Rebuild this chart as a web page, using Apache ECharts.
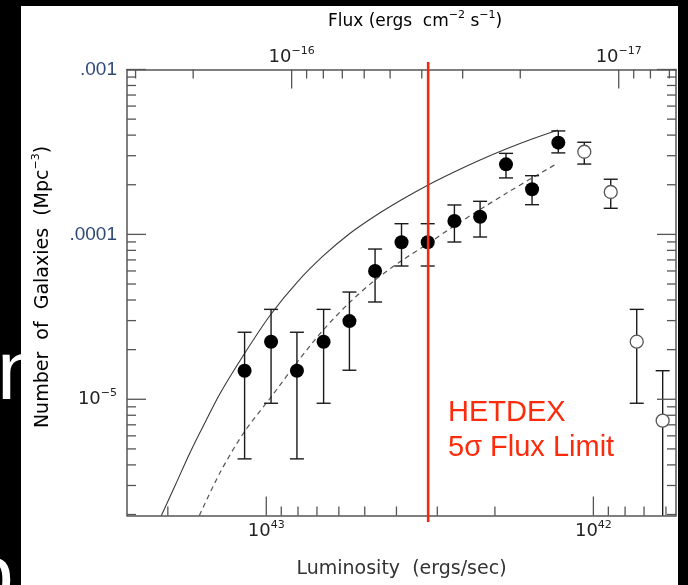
<!DOCTYPE html>
<html>
<head>
<meta charset="utf-8">
<script src="https://cdn.jsdelivr.net/npm/echarts@6/dist/echarts.min.js"></script>
<style>html,body{margin:0;padding:0;background:#fff;}#c{width:688px;height:585px;}</style>
</head>
<body>
<div id="c"></div>
<script>
// ---------------- data ----------------
// filled points: luminosity (erg/s), number density (Mpc^-3), error-bar ends
const filledLum  = [1.165e43, 9.67e42, 8.06e42, 6.68e42, 5.57e42, 4.65e42, 3.86e42, 3.21e42, 2.66e42, 2.22e42, 1.85e42, 1.54e42, 1.28e42];
const filledN    = [1.49e-5, 2.235e-5, 1.49e-5, 2.235e-5, 2.98e-5, 6.0e-5, 8.96e-5, 8.96e-5, 1.206e-4, 1.28e-4, 2.66e-4, 1.877e-4, 3.6e-4];
const filledHi   = [2.55e-5, 3.51e-5, 2.55e-5, 3.51e-5, 4.47e-5, 8.15e-5, 1.161e-4, 1.161e-4, 1.508e-4, 1.587e-4, 3.10e-4, 2.27e-4, 4.24e-4];
const filledLo   = [4.35e-6, 9.46e-6, 4.35e-6, 9.46e-6, 1.5e-5, 3.89e-5, 6.43e-5, 6.43e-5, 8.99e-5, 9.64e-5, 2.2e-4, 1.514e-4, 3.12e-4];
// open points
const openLum = [1.066e42, 8.85e41, 7.37e41, 6.14e41];
const openN   = [3.17e-4, 1.807e-4, 2.235e-5, 7.42e-6];
const openHi  = [3.62e-4, 2.16e-4, 3.51e-5, 1.49e-5];
const openLo  = [2.67e-4, 1.44e-4, 9.46e-6, 1.0e-6];
// solid model curve
const solidLum = [2.093e43, 1.897e43, 1.707e43, 1.536e43, 1.382e43, 1.168e43, 9.72e42, 8.04e42, 6.70e42, 5.58e42, 4.65e42, 3.87e42, 3.20e42, 2.665e42, 2.22e42, 1.85e42, 1.54e42, 1.282e42];
const solidN   = [1.974e-6, 3.02e-6, 4.79e-6, 7.29e-6, 1.092e-5, 1.883e-5, 3.245e-5, 5.14e-5, 7.40e-5, 1.006e-4, 1.293e-4, 1.616e-4, 1.994e-4, 2.39e-4, 2.826e-4, 3.295e-4, 3.79e-4, 4.30e-4];
// dashed model curve
const dashLum = [1.602e43, 1.382e43, 1.168e43, 9.72e42, 8.04e42, 6.70e42, 5.58e42, 4.65e42, 3.87e42, 3.20e42, 2.665e42, 2.22e42, 1.85e42, 1.54e42, 1.282e42];
const dashN   = [1.974e-6, 3.62e-6, 6.33e-6, 1.018e-5, 1.683e-5, 2.63e-5, 3.84e-5, 5.29e-5, 6.90e-5, 8.81e-5, 1.125e-4, 1.416e-4, 1.77e-4, 2.198e-4, 2.71e-4];
// HETDEX 5 sigma flux limit, in luminosity
const fluxLimitLum = [3.2e42];

// axis ranges and ticks
const lumRange  = [5.59e41, 2.666e43];
const nRange    = [1.973e-6, 1e-3];
const fluxPerLumLog = -58.9225;             // log10(flux / luminosity)
const lumTickValues  = [1e43, 1e42];
const lumTickExps    = ['43', '42'];
const fluxTickValues = [1e-16, 1e-17];
const fluxTickExps   = ['\u221216', '\u221217'];
const nTickValues    = [1e-3, 1e-4, 1e-5];
const nTickBase      = ['.001', '.0001', '10'];
const nTickSup       = ['', '', '\u22125'];
const lumMinorTicks  = [2e43, 9e42, 8e42, 7e42, 6e42, 5e42, 4e42, 3e42, 2e42, 9e41, 8e41, 7e41, 6e41];
const fluxMinorTicks = [3e-16, 2e-16, 9e-17, 8e-17, 7e-17, 6e-17, 5e-17, 4e-17, 3e-17, 2e-17, 9e-18, 8e-18, 7e-18];
const nMinorTicks    = [2e-6, 3e-6, 4e-6, 5e-6, 6e-6, 7e-6, 8e-6, 9e-6, 2e-5, 3e-5, 4e-5, 5e-5, 6e-5, 7e-5, 8e-5, 9e-5, 2e-4, 3e-4, 4e-4, 5e-4, 6e-4, 7e-4, 8e-4, 9e-4];

// ---------------- chart ----------------
const AX = '#555';
const FONT = 'DejaVu Sans';
const fluxScale = Math.pow(10, fluxPerLumLog);
const fluxRange = lumRange.map(v => v * fluxScale);

function findTick(v, vals) {
  const lv = Math.log10(v);
  for (let i = 0; i < vals.length; i++) if (Math.abs(lv - Math.log10(vals[i])) < 1e-6) return i;
  return -1;
}
const richTick = {
  b: { fontFamily: FONT, fontSize: 18, color: '#222', lineHeight: 24 },
  s: { fontFamily: FONT, fontSize: 11, color: '#222', lineHeight: 12, verticalAlign: 'top' },
  a: { fontFamily: 'Liberation Sans', fontSize: 19, color: '#2e4a78', lineHeight: 24 }
};

function errorBarSeries(name, lum, lo, hi) {
  return {
    type: 'custom', name: name, xAxisIndex: 0, yAxisIndex: 0, z: 3,
    data: lum.map((x, i) => [x, lo[i], hi[i]]),
    encode: { x: 0, y: [1, 2] },
    renderItem: function (params, api) {
      const cs = params.coordSys;
      const pH = api.coord([api.value(0), api.value(2)]);
      const pL = api.coord([api.value(0), api.value(1)]);
      let yl = pL[1], capLo = true;
      const bottom = cs.y + cs.height;
      if (yl > bottom) { yl = bottom; capLo = false; }
      const st = { stroke: '#1a1a1a', lineWidth: 1.4 };
      const w = 7;
      const ch = [
        { type: 'line', shape: { x1: pH[0], y1: pH[1], x2: pH[0], y2: yl }, style: st },
        { type: 'line', shape: { x1: pH[0] - w, y1: pH[1], x2: pH[0] + w, y2: pH[1] }, style: st }
      ];
      if (capLo) ch.push({ type: 'line', shape: { x1: pL[0] - w, y1: yl, x2: pL[0] + w, y2: yl }, style: st });
      return { type: 'group', children: ch };
    }
  };
}

// all frame ticks (inward), positioned through the axes' scales
const frameTickSeries = {
  type: 'custom', name: 'frame ticks', xAxisIndex: 0, yAxisIndex: 0, z: 5, silent: true,
  data: [[lumTickValues[0], nTickValues[1]]], encode: { x: 0, y: 1 },
  renderItem: function (params, api) {
    const cs = params.coordSys;
    const Lx = cs.x, Rx = cs.x + cs.width, Ty = cs.y, By = cs.y + cs.height;
    const st = { stroke: AX, lineWidth: 1.3 };
    const ch = [];
    const seg = (x1, y1, x2, y2) => ch.push({ type: 'line', shape: { x1: x1, y1: y1, x2: x2, y2: y2 }, style: st });
    const xOfLum = v => api.coord([v, nRange[1]])[0];
    const yOfN = v => api.coord([lumRange[1], v])[1];
    lumTickValues.forEach(v => { const x = xOfLum(v); seg(x, By, x, By - 19); });
    lumMinorTicks.forEach(v => { const x = xOfLum(v); seg(x, By, x, By - 9); });
    fluxTickValues.forEach(v => { const x = xOfLum(v / fluxScale); seg(x, Ty, x, Ty + 19); });
    fluxMinorTicks.forEach(v => { const x = xOfLum(v / fluxScale); seg(x, Ty, x, Ty + 9); });
    nTickValues.forEach(v => { const y = yOfN(v); seg(Lx, y, Lx + 19, y); seg(Rx, y, Rx - 19, y); });
    nMinorTicks.forEach(v => { const y = yOfN(v); seg(Lx, y, Lx + 9, y); seg(Rx, y, Rx - 9, y); });
    return { type: 'group', children: ch };
  }
};

const chart = echarts.init(document.getElementById('c'), null, { renderer: 'canvas' });
chart.setOption({
  animation: false,
  backgroundColor: '#fff',
  grid: { left: 127, right: 12, top: 69.5, bottom: 69.5, containLabel: false, outerBoundsMode: 'none' },
  xAxis: [
    {
      type: 'log', inverse: true, min: lumRange[0], max: lumRange[1], position: 'bottom',
      axisLine: { show: true, lineStyle: { color: AX, width: 1.5 } },
      axisTick: { show: false }, minorTick: { show: false }, splitLine: { show: false },
      axisLabel: {
        margin: 4, rich: richTick,
        formatter: function (v) { const i = findTick(v, lumTickValues); return i < 0 ? '' : '{b|10}{s|' + lumTickExps[i] + '}'; }
      },
      name: '{t|Luminosity  (ergs/sec)}', nameLocation: 'middle', nameGap: 44,
      nameTextStyle: { rich: { t: { fontFamily: FONT, fontSize: 19, color: '#333' } } }
    },
    {
      type: 'log', inverse: true, min: fluxRange[0], max: fluxRange[1], position: 'top',
      axisLine: { show: true, lineStyle: { color: AX, width: 1.5 } },
      axisTick: { show: false }, minorTick: { show: false }, splitLine: { show: false },
      axisLabel: {
        margin: 0, rich: richTick,
        formatter: function (v) { const i = findTick(v, fluxTickValues); return i < 0 ? '' : '{b|10}{s|' + fluxTickExps[i] + '}'; }
      }
    }
  ],
  yAxis: [
    {
      type: 'log', min: nRange[0], max: nRange[1], position: 'left',
      axisLine: { show: true, lineStyle: { color: AX, width: 1.5 } },
      axisTick: { show: false }, minorTick: { show: false }, splitLine: { show: false },
      axisLabel: {
        margin: 10, rich: richTick,
        formatter: function (v) {
          const i = findTick(v, nTickValues);
          if (i < 0) return '';
          return nTickSup[i] ? '{b|' + nTickBase[i] + '}{s|' + nTickSup[i] + '}' : '{a|' + nTickBase[i] + '}';
        }
      }
    },
    {
      type: 'log', min: nRange[0], max: nRange[1], position: 'right',
      axisLine: { show: true, lineStyle: { color: AX, width: 1.5 } },
      axisTick: { show: false }, minorTick: { show: false }, splitLine: { show: false },
      axisLabel: { show: false }
    }
  ],
  series: [
    { type: 'line', name: 'model (solid)', xAxisIndex: 0, yAxisIndex: 0, data: solidLum.map((x, i) => [x, solidN[i]]),
      showSymbol: false, symbol: 'none', smooth: 0.3, clip: true, z: 2,
      lineStyle: { color: '#3a3a3a', width: 1.1 } },
    { type: 'line', name: 'model (dashed)', xAxisIndex: 0, yAxisIndex: 0, data: dashLum.map((x, i) => [x, dashN[i]]),
      showSymbol: false, symbol: 'none', smooth: 0.3, clip: true, z: 2,
      lineStyle: { color: '#555', width: 1.2, type: [5, 4] } },
    errorBarSeries('filled errors', filledLum, filledLo, filledHi),
    errorBarSeries('open errors', openLum, openLo, openHi),
    { type: 'scatter', name: 'filled', xAxisIndex: 0, yAxisIndex: 0, z: 4,
      data: filledLum.map((x, i) => [x, filledN[i]]), symbol: 'circle', symbolSize: 14,
      itemStyle: { color: '#000', borderWidth: 0, opacity: 1 } },
    { type: 'scatter', name: 'open', xAxisIndex: 0, yAxisIndex: 0, z: 4,
      data: openLum.map((x, i) => [x, openN[i]]), symbol: 'circle', symbolSize: 13,
      itemStyle: { color: '#fff', borderColor: '#555', borderWidth: 1.3, opacity: 1 } },
    { type: 'custom', name: 'flux limit', xAxisIndex: 0, yAxisIndex: 0, z: 6, silent: true,
      data: fluxLimitLum.map(v => [v, nRange[1]]), encode: { x: 0, y: 1 },
      renderItem: function (params, api) {
        const cs = params.coordSys;
        const p = api.coord([api.value(0), nRange[1]]);
        return { type: 'line', shape: { x1: p[0], y1: cs.y - 7.5, x2: p[0], y2: cs.y + cs.height + 6.5 },
                 style: { stroke: '#f4290b', lineWidth: 2.6 } };
      } },
    frameTickSeries
  ],
  graphic: [
    { type: 'rect', left: 0, top: 0, shape: { width: 21, height: 585 }, style: { fill: '#000' }, z: 10 },
    { type: 'rect', left: 0, top: 0, shape: { width: 688, height: 6 }, style: { fill: '#000' }, z: 10 },
    { type: 'rect', left: 678, top: 0, shape: { width: 10, height: 585 }, style: { fill: '#000' }, z: 10 },
    { type: 'text', x: -3, y: 418, z: 11, style: { text: 'n', fontFamily: 'Liberation Sans', fontSize: 84, fill: '#fff', textVerticalAlign: 'bottom' } },
    { type: 'text', x: -33, y: 537, z: 11, style: { text: 'o', fontFamily: 'Liberation Sans', fontSize: 84, fill: '#fff', textVerticalAlign: 'top' } },
    { type: 'text', x: 415, y: 22, z: 12,
      style: { text: '{t|Flux (ergs  cm}{s|\u22122}{t| s}{s|\u22121}{t|)}', textAlign: 'center', textVerticalAlign: 'middle',
        rich: { t: { fontFamily: FONT, fontSize: 17, color: '#333', lineHeight: 24 },
                s: { fontFamily: FONT, fontSize: 11, color: '#333', lineHeight: 12, verticalAlign: 'top' } } } },
    { type: 'text', x: 43, y: 287, rotation: Math.PI / 2, z: 12,
      style: { text: '{t|Number  of  Galaxies  (Mpc}{s|\u22123}{t|)}', textAlign: 'center', textVerticalAlign: 'middle',
        rich: { t: { fontFamily: FONT, fontSize: 19, color: '#333', lineHeight: 24 },
                s: { fontFamily: FONT, fontSize: 11, color: '#333', lineHeight: 12, verticalAlign: 'top' } } } },
    { type: 'text', x: 448, y: 412.6, z: 12, style: { text: 'HETDEX', fontFamily: 'Liberation Sans', fontSize: 29, fill: '#fb2b0c', textVerticalAlign: 'middle' } },
    { type: 'text', x: 448, y: 447.9, z: 12, style: { text: '5\u03c3 Flux Limit', fontFamily: 'Liberation Sans', fontSize: 29, fill: '#fb2b0c', textVerticalAlign: 'middle' } }
  ]
});
</script>
</body>
</html>
